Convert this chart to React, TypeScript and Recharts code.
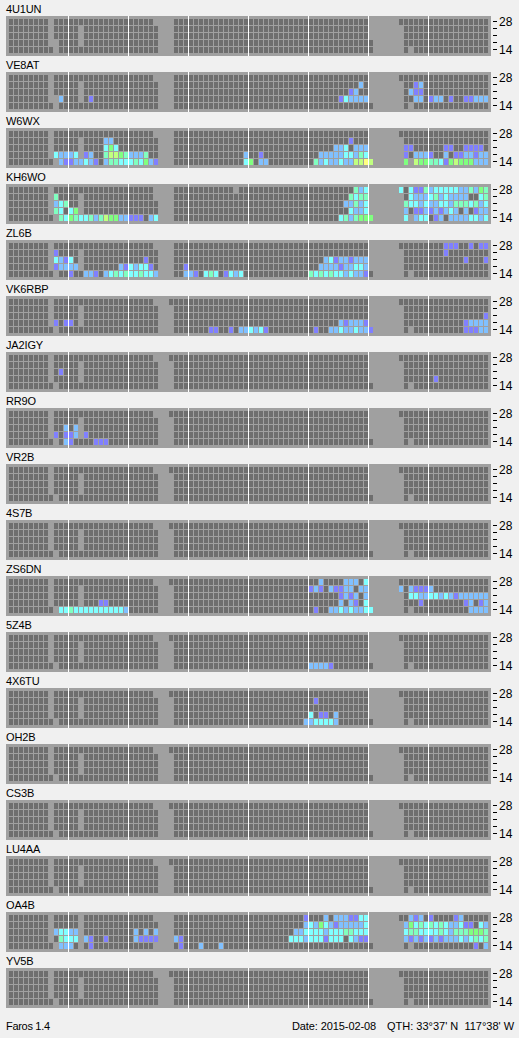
import React from 'react';
import { CartesianGrid, Scatter, ScatterChart, XAxis, YAxis } from 'recharts';

// [row (0 = 28 MHz, 4 = 14 MHz), first slot, one digit per slot: 0 = no signal, 1-7 = strength]
type Run = [number, number, string];
// [row, first slot, last slot]
type Gap = [number, number, number];

const STATIONS = [
  '4U1UN', 'VE8AT', 'W6WX', 'KH6WO', 'ZL6B', 'VK6RBP', 'JA2IGY', 'RR9O', 'VR2B',
  '4S7B', 'ZS6DN', '5Z4B', '4X6TU', 'OH2B', 'CS3B', 'LU4AA', 'OA4B', 'YV5B',
];
const BAND_TICKS = ['14', '', '', '', '28'];
const HOUR_LINES = [11.5, 23.5, 35.5, 47.5, 59.5, 71.5, 83.5];
const LEVEL_COLORS = ['#6e6e6e', '#8080ff', '#80c0ff', '#80ffff', '#80ffc0', '#80ff80', '#c0ff80', '#ffff80'];

const NO_DATA: Gap[] = [
  [0, 8, 8], [1, 8, 8], [2, 8, 8], [3, 8, 8], [4, 9, 9],
  [1, 14, 14], [2, 14, 14], [3, 14, 14],
  [0, 29, 32], [1, 30, 32], [2, 30, 32], [3, 30, 32], [4, 30, 32],
  [0, 72, 77], [1, 72, 78], [2, 72, 78], [3, 72, 78], [4, 73, 78], [4, 80, 80],
];
const EXTRA_GAPS: Record<string, Gap[]> = {
  '4U1UN': [[3, 9, 9]],
  VE8AT: [[3, 9, 9]],
  KH6WO: [[0, 45, 45], [1, 29, 29]],
  OA4B: [[0, 14, 14], [4, 14, 14], [4, 29, 29]],
};

const QUIET_TOP: Run[] = [[0, 32, '0']];

const RUNS_4U1UN: Run[] = [[3, 72, '0']];
const RUNS_VE8AT: Run[] = [
  [1, 70, '2'], [1, 81, '12'],
  [2, 68, '12'], [2, 80, '211'],
  [3, 10, '2'], [3, 16, '1'], [3, 66, '132222'], [3, 81, '22'], [3, 84, '122'], [3, 88, '1'], [3, 91, '11222'],
];
const RUNS_W6WX: Run[] = [
  [1, 19, '22'], [1, 68, '1'],
  [2, 19, '353'], [2, 65, '223'], [2, 69, '222'], [2, 79, '11'], [2, 87, '11'], [2, 91, '1111'],
  [3, 9, '32223'], [3, 15, '12'], [3, 19, '466542224'], [3, 47, '2'], [3, 50, '1'], [3, 62, '2222233243'],
  [3, 79, '1'], [3, 81, '2221'], [3, 87, '2'], [3, 89, '1122122'],
  [4, 10, '21122321'], [4, 19, '24433343521'], [4, 47, '35'], [4, 50, '22'], [4, 61, '423223226676'],
  [4, 79, '5'], [4, 81, '655443156555222'],
];
const RUNS_KH6WO: Run[] = [
  [0, 69, '423'], [0, 78, '3'], [0, 80, '3114233333224254'],
  [1, 9, '4'], [1, 68, '4344'], [1, 80, '322234232222'], [1, 94, '34'],
  [2, 9, '234'], [2, 67, '22423'], [2, 79, '43323223324443423'],
  [3, 9, '43'], [3, 12, '35'], [3, 68, '3223'], [3, 79, '2'], [3, 81, '112121232'], [3, 91, '2'], [3, 93, '122'],
  [4, 10, '43543342465522111'], [4, 28, '23'], [4, 66, '3424555'], [4, 79, '3'], [4, 81, '233'], [4, 85, '12'], [4, 88, '22223323'],
];
const RUNS_ZL6B: Run[] = [
  [0, 87, '111'], [0, 92, '1'], [0, 94, '11'],
  [1, 9, '1'], [1, 87, '1'],
  [2, 9, '3213'], [2, 27, '1'], [2, 63, '231221222'], [2, 91, '1'], [2, 95, '1'],
  [3, 9, '12222'], [3, 22, '2132331'], [3, 35, '1'], [3, 62, '2222122332'],
  [4, 12, '1'], [4, 15, '221'], [4, 19, '23434334332'], [4, 35, '221'], [4, 39, '343'], [4, 43, '1323'], [4, 60, '434343323221'],
];
const RUNS_VK6RBP: Run[] = [
  ...QUIET_TOP,
  [2, 95, '1'],
  [3, 9, '1'], [3, 11, '11'], [3, 66, '212221'], [3, 91, '12222'],
  [4, 40, '11'], [4, 44, '1'], [4, 46, '22323'], [4, 51, '1'], [4, 61, '1'], [4, 64, '223223221'], [4, 91, '11122'],
];
const RUNS_JA2IGY: Run[] = [...QUIET_TOP, [2, 10, '1'], [3, 85, '1']];
const RUNS_RR9O: Run[] = [
  ...QUIET_TOP,
  [2, 11, '2'], [2, 13, '2'],
  [3, 9, '1'], [3, 11, '112'], [3, 15, '1'],
  [4, 11, '21'], [4, 17, '111'],
];
const RUNS_ZS6DN: Run[] = [
  ...QUIET_TOP,
  [0, 62, '2'], [0, 67, '222'], [0, 71, '3'],
  [1, 60, '121'], [1, 64, '21122'], [1, 70, '22'], [1, 78, '2'], [1, 80, '21112'],
  [2, 66, '1212'], [2, 71, '2'], [2, 80, '3322332321222222'],
  [3, 18, '11'], [3, 66, '2'], [3, 68, '21'], [3, 71, '3'], [3, 82, '1'], [3, 91, '12'], [3, 94, '12'],
  [4, 10, '33433333333332'], [4, 61, '1'], [4, 64, '223232233'], [4, 92, '2222'],
];
const RUNS_5Z4B: Run[] = [...QUIET_TOP, [4, 60, '22221']];
const RUNS_4X6TU: Run[] = [
  ...QUIET_TOP,
  [1, 61, '1'],
  [3, 60, '3'], [3, 62, '11'], [3, 65, '2'],
  [4, 59, '2233332'],
];
const RUNS_OA4B: Run[] = [
  [0, 59, '1'], [0, 63, '2'], [0, 65, '2221133'], [0, 80, '212'], [0, 84, '1'], [0, 89, '12'],
  [1, 59, '2325321222223'], [1, 79, '25343434322311'], [1, 94, '32'],
  [2, 9, '23322'], [2, 25, '2'], [2, 27, '2'], [2, 29, '2'], [2, 57, '223333233344333'], [2, 79, '34433334324445554'],
  [3, 10, '4333'], [3, 15, '21'], [3, 19, '1'], [3, 25, '21111'], [3, 33, '21'], [3, 56, '33323331333'], [3, 68, '3211'],
  [3, 79, '21212121222323434'],
  [4, 10, '222'], [4, 16, '1'], [4, 34, '1'], [4, 38, '2'], [4, 42, '2'], [4, 93, '1'], [4, 95, '2'],
];

const STATION_RUNS: Record<string, Run[]> = {
  '4U1UN': RUNS_4U1UN, VE8AT: RUNS_VE8AT, W6WX: RUNS_W6WX, KH6WO: RUNS_KH6WO, ZL6B: RUNS_ZL6B,
  VK6RBP: RUNS_VK6RBP, JA2IGY: RUNS_JA2IGY, RR9O: RUNS_RR9O, VR2B: QUIET_TOP, '4S7B': QUIET_TOP,
  ZS6DN: RUNS_ZS6DN, '5Z4B': RUNS_5Z4B, '4X6TU': RUNS_4X6TU, OH2B: QUIET_TOP, CS3B: QUIET_TOP,
  LU4AA: QUIET_TOP, OA4B: RUNS_OA4B, YV5B: QUIET_TOP,
};

const FONT = '"Liberation Sans", sans-serif';
const PANEL_PITCH = 56;

const buildCells = (station: string) => {
  const levels: (number | null)[][] = [0, 1, 2, 3, 4].map(() => Array(96).fill(0));
  [...NO_DATA, ...(EXTRA_GAPS[station] ?? [])].forEach(([row, from, to]) => {
    for (let c = from; c <= to; c++) levels[row][c] = null;
  });
  STATION_RUNS[station].forEach(([row, col, digits]) => {
    digits.split('').forEach((d, i) => {
      levels[row][col + i] = Number(d);
    });
  });
  const cells: { slot: number; band: number; level: number }[] = [];
  levels.forEach((line, row) => {
    line.forEach((level, slot) => {
      if (level !== null) cells.push({ slot, band: 4 - row, level });
    });
  });
  return cells;
};

const CellMark = (props: any) => (
  <rect
    x={props.cx - 2}
    y={props.cy - 3}
    width={4}
    height={6}
    fill={LEVEL_COLORS[props.payload.level]}
    shapeRendering="crispEdges"
  />
);

const BandTick = ({ x, y, payload }: any) => (
  <g>
    <line x1={x + 2} x2={x + 6} y1={y - 0.5} y2={y - 0.5} stroke="#000" shapeRendering="crispEdges" />
    <text x={x + 8} y={y + 4} fontSize={12} fontFamily={FONT} fill="#000">
      {BAND_TICKS[payload.value]}
    </text>
  </g>
);

const Panel = ({ station, index }: { station: string; index: number }) => {
  const cells = buildCells(station);
  return (
    <div style={{ position: 'absolute', left: 0, top: index * PANEL_PITCH }}>
      <div
        style={{
          position: 'absolute',
          left: 6,
          top: 2,
          fontSize: 11,
          letterSpacing: -0.15,
          lineHeight: '14px',
          whiteSpace: 'nowrap',
        }}
      >
        {station}
      </div>
      <div style={{ position: 'absolute', left: 0, top: 12 }}>
        <ScatterChart width={519} height={48} margin={{ top: 4, right: 0, bottom: 4, left: 6 }}>
          <CartesianGrid horizontal={false} verticalValues={HOUR_LINES} stroke="#fff" fill="#a0a0a0" />
          <XAxis type="number" dataKey="slot" domain={[-1, 96]} ticks={HOUR_LINES} allowDataOverflow hide />
          <YAxis
            type="number"
            dataKey="band"
            orientation="right"
            width={28}
            domain={[-6 / 7, 34 / 7]}
            ticks={[0, 1, 2, 3, 4]}
            interval={0}
            allowDataOverflow
            axisLine={false}
            tickLine={false}
            tickSize={0}
            tickMargin={0}
            tick={<BandTick />}
          />
          <Scatter data={cells} shape={<CellMark />} isAnimationActive={false} />
        </ScatterChart>
      </div>
    </div>
  );
};

const FOOTER_STYLE: React.CSSProperties = {
  position: 'absolute',
  top: 1019,
  fontSize: 11,
  lineHeight: '14px',
  whiteSpace: 'nowrap',
};

export default function App() {
  return (
    <div
      style={{
        position: 'absolute',
        left: 0,
        top: 0,
        width: 519,
        height: 1038,
        overflow: 'hidden',
        background: '#f0f0f0',
        fontFamily: FONT,
        color: '#000',
      }}
    >
      {STATIONS.map((station, i) => (
        <Panel key={station} station={station} index={i} />
      ))}
      <div style={{ ...FOOTER_STYLE, left: 6, letterSpacing: -0.3 }}>Faros 1.4</div>
      <div style={{ ...FOOTER_STYLE, left: 292, letterSpacing: -0.1 }}>Date: 2015-02-08</div>
      <div style={{ ...FOOTER_STYLE, left: 387 }}>QTH: 33°37' N&nbsp;&nbsp;117°38' W</div>
    </div>
  );
}
